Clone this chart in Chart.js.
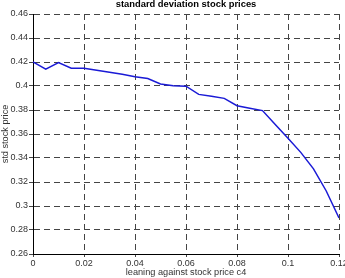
<!DOCTYPE html>
<html>
<head>
<meta charset="utf-8">
<script src="https://cdn.jsdelivr.net/npm/chart.js@4/dist/chart.umd.min.js"></script>
<style>
html,body{margin:0;padding:0;background:#fff;}
#wrap{width:345px;height:278px;position:relative;}
</style>
</head>
<body>
<div id="wrap"><canvas id="c" width="345" height="278"></canvas></div>
<script>
const chartTitle = "standard deviation stock prices";
const xAxisTitle = "leaning against stock price c4";
const yAxisTitle = "std stock price";
const leaning = [0,0.005,0.01,0.015,0.02,0.025,0.03,0.035,0.04,0.045,0.05,0.055,0.06,0.065,0.07,0.075,0.08,0.085,0.09,0.095,0.1,0.105,0.11,0.115,0.12];
const stdPrice = [0.4200,0.4140,0.4195,0.4148,0.4147,0.4132,0.4115,0.4097,0.4078,0.4063,0.4017,0.4003,0.3998,0.3930,0.3915,0.3897,0.3836,0.3815,0.3795,0.3680,0.3564,0.3447,0.3310,0.3125,0.2900];
const xRange = [0, 0.12, 0.02];
const yRange = [0.26, 0.46, 0.02];

const pts = leaning.map((x,i)=>({x:x,y:stdPrice[i]}));

const titlePlugin = {
  id:'centerTitle',
  afterDraw(chart){
    const ctx = chart.ctx, a = chart.chartArea;
    ctx.save();
    ctx.font = 'bold 9.4px "Liberation Sans", Arial, sans-serif';
    ctx.fillStyle = '#000';
    ctx.textAlign = 'center';
    ctx.textBaseline = 'middle';
    ctx.fillText(chartTitle, (a.left+a.right)/2, 4);
    ctx.restore();
  }
};

function fixPad(s){ s.paddingLeft=0; s.paddingRight=0; s.paddingTop=0; s.paddingBottom=0; }

new Chart(document.getElementById('c'), {
  type:'line',
  data:{datasets:[{data:pts, borderColor:'#1a1ad6', borderWidth:1.5, pointRadius:0, tension:0, fill:false}]},
  options:{
    responsive:false, animation:false, devicePixelRatio:1,
    layout:{padding:{top:14,right:6,left:0,bottom:0}},
    plugins:{legend:{display:false}, tooltip:{enabled:false}, title:{display:false}},
    scales:{
      x:{type:'linear', min:xRange[0], max:xRange[1],
        ticks:{stepSize:xRange[2], color:'#333', font:{family:'"Liberation Sans", Arial, sans-serif', size:9}, padding:1, maxRotation:0, autoSkip:false,
          callback:(v)=>String(Number(v.toFixed(3)))},
        grid:{color:'#444', lineWidth:1, tickLength:3, drawTicks:true},
        border:{display:true, color:'#000', width:1, dash:[6,4]},
        title:{display:true, text:xAxisTitle, color:'#333', font:{family:'"Liberation Sans", Arial, sans-serif', size:9.2}, padding:0},
        afterFit:(s)=>{ s.height=24; fixPad(s); }
      },
      y:{type:'linear', min:yRange[0], max:yRange[1],
        ticks:{stepSize:yRange[2], color:'#333', font:{family:'"Liberation Sans", Arial, sans-serif', size:9}, padding:1, autoSkip:false,
          callback:(v)=>String(Number(v.toFixed(3)))},
        grid:{color:'#444', lineWidth:1, tickLength:4, drawTicks:true},
        border:{display:true, color:'#000', width:1, dash:[6,4]},
        title:{display:true, text:yAxisTitle, color:'#333', font:{family:'"Liberation Sans", Arial, sans-serif', size:9.2}, padding:0},
        afterFit:(s)=>{ s.width=33; fixPad(s); }
      }
    }
  },
  plugins:[titlePlugin]
});
</script>
</body>
</html>
